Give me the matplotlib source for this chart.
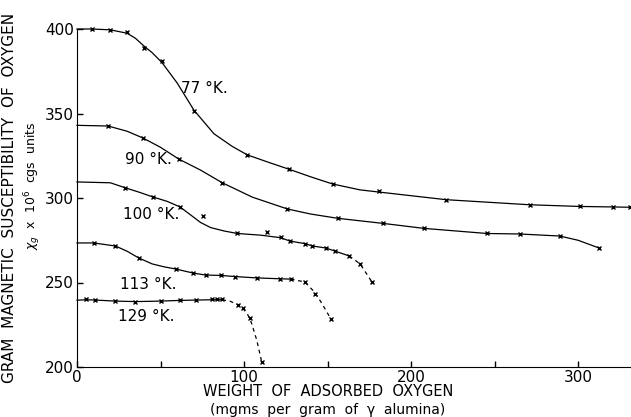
import matplotlib
matplotlib.use("Agg")
import matplotlib.pyplot as plt

# 77 K - line trace and measured points
t77_line_x = [0, 9, 20, 30, 35, 40, 45, 51, 60, 70, 82, 93, 102, 115, 127, 140, 153, 169.5, 181, 221, 271, 301, 321, 332]
t77_line_y = [400, 400, 399.5, 397.5, 394.5, 390, 386, 380, 368, 352, 338, 330.5, 325.5, 321, 317, 312.5, 308.3, 304.8, 303.5, 299, 296, 295, 294.7, 294.5]
t77_pts_x = [9, 20, 30, 40, 51, 70, 102, 127, 153, 181, 221, 271, 301, 321, 331]
t77_pts_y = [400, 399.5, 398, 389, 381, 351.5, 325.5, 317, 308.3, 304, 299, 296, 295, 294.7, 294.5]

# 90 K
t90_line_x = [0, 18.6, 30, 39.5, 50, 61, 74, 87, 105, 126, 140, 156, 183, 208, 245.5, 265, 289, 300, 312.6]
t90_line_y = [343, 342.6, 339.5, 335.5, 330, 323, 316.5, 309, 300.5, 293.5, 290.5, 288, 285, 282, 279, 278.7, 277.5, 275, 270.4]
t90_pts_x = [18.6, 39.5, 61, 87, 126, 156, 183, 208, 245.5, 265, 289, 312.6]
t90_pts_y = [342.6, 335.5, 323, 309, 293.5, 288, 285, 282, 279, 278.7, 277.5, 270.4]

# 100 K (dashed after ~163)
t100_line_x = [0, 20, 29, 37, 45.5, 54, 61.7, 68, 74, 80, 88, 96, 110, 122, 127.5, 136.5, 141, 149, 154.5, 163]
t100_line_y = [309.5, 309, 306, 303.5, 300.6, 298, 294.7, 290, 285.5, 282.5, 280.5, 279, 278, 276.5, 274.5, 273, 271.6, 270.4, 268.6, 265.7]
t100_dash_x = [163, 169.5, 176.6]
t100_dash_y = [265.7, 261, 250.3]
t100_pts_x = [29, 45.5, 61.7, 75.4, 96, 114, 122, 127.5, 136.5, 141, 149, 154.5, 163, 169.5, 176.6]
t100_pts_y = [306, 300.6, 294.7, 289.3, 279, 280, 277, 274.5, 273, 271.6, 270.4, 268.6, 265.7, 261, 250.3]

# 113 K (dashed after ~128)
t113_line_x = [0, 10, 23, 30, 37, 45, 52, 59, 69.5, 77, 86, 94.6, 108, 121.5, 128]
t113_line_y = [273.4, 273.4, 271.6, 268.5, 264.5, 261, 259.3, 258, 255.6, 254.4, 254.2, 253.5, 252.7, 252.2, 252]
t113_dash_x = [128, 136.5, 142.5, 147, 152]
t113_dash_y = [252, 250.3, 244, 237, 228.4]
t113_pts_x = [10, 23, 37, 59, 69.5, 77, 86, 94.6, 108, 121.5, 128, 136.5, 142.5, 152]
t113_pts_y = [273.4, 271.6, 264.5, 258, 255.6, 254.4, 254.4, 253.3, 252.7, 252, 252, 250.3, 243, 228.4]

# 129 K (dashed after ~87)
t129_line_x = [0, 5.4, 11, 23, 35, 50, 61.7, 71, 81, 84, 87]
t129_line_y = [239.5, 239.8, 239.6, 239, 238.7, 239, 239.4, 239.6, 239.8, 239.8, 239.8]
t129_dash_x = [87, 92, 96.4, 99.4, 102, 104.5, 107.6, 110.6]
t129_dash_y = [239.8, 238.8, 236.7, 234.5, 231.5, 226, 216, 203]
t129_pts_x = [5.4, 11, 23, 35, 50, 61.7, 71, 81, 84, 87, 96.4, 99.4, 103.6, 110.6]
t129_pts_y = [240, 239.6, 239, 238.5, 239, 239.6, 239.6, 240, 240, 240, 236.7, 235, 229, 203]

labels = ["77 °K.", "90 °K.", "100 °K.", "113 °K.", "129 °K."]
label_x = [62, 29, 27.5, 26, 24.5]
label_y = [365, 322.5, 290.5, 249, 230]

fig = plt.figure(figsize=(6.31, 4.17), dpi=100)
ax = fig.add_axes([77 / 631, 50 / 417, 554 / 631, 338 / 417])

lw = 0.9
ms = 3.5
for lx, ly in [(t77_line_x, t77_line_y), (t90_line_x, t90_line_y), (t100_line_x, t100_line_y),
               (t113_line_x, t113_line_y), (t129_line_x, t129_line_y)]:
    ax.plot(lx, ly, color="black", lw=lw, clip_on=False)
for dx, dy in [(t100_dash_x, t100_dash_y), (t113_dash_x, t113_dash_y), (t129_dash_x, t129_dash_y)]:
    ax.plot(dx, dy, color="black", lw=lw, ls=(0, (3, 3)), clip_on=False)
for px, py in [(t77_pts_x, t77_pts_y), (t90_pts_x, t90_pts_y), (t100_pts_x, t100_pts_y),
               (t113_pts_x, t113_pts_y), (t129_pts_x, t129_pts_y)]:
    ax.plot(px, py, ls="none", marker="x", ms=ms, mew=1.0, color="black", clip_on=False)

for t, x, y in zip(labels, label_x, label_y):
    ax.text(x, y, t, fontsize=11, ha="left", va="center")

ax.set_xlim(0, 331.7)
ax.set_ylim(200, 400)
ax.spines["top"].set_visible(False)
ax.spines["right"].set_visible(False)
ax.set_xticks([0, 100, 200, 300])
ax.set_xticks([50, 150, 250], minor=True)
ax.set_yticks([200, 250, 300, 350, 400])
ax.tick_params(direction="in", length=4, width=1, labelsize=11, pad=2)
ax.tick_params(which="minor", direction="in", length=4, width=1)

# axis titles placed by hand like the original lettering
fig.text(10 / 631, 1 - 198 / 417, "GRAM  MAGNETIC  SUSCEPTIBILITY  OF  OXYGEN",
         rotation=90, ha="center", va="center", fontsize=11)
fig.text(33 / 631, 1 - 186 / 417, r"$\chi_g$  x  10$^6$  cgs  units",
         rotation=90, ha="center", va="center", fontsize=9)
fig.text(328 / 631, 1 - 391 / 417, "WEIGHT  OF  ADSORBED  OXYGEN",
         ha="center", va="center", fontsize=10.5)
fig.text(328 / 631, 1 - 410 / 417, "(mgms  per  gram  of  γ  alumina)",
         ha="center", va="center", fontsize=10)

fig.savefig("out.png", dpi=100)
